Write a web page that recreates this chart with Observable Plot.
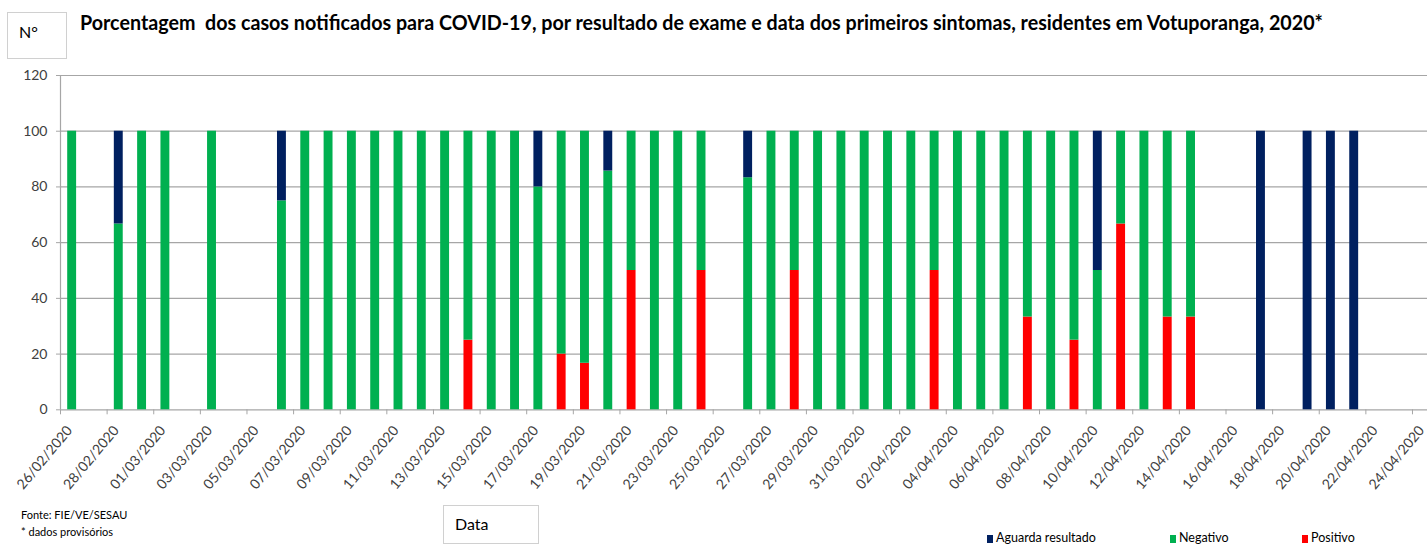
<!DOCTYPE html>
<html><head><meta charset="utf-8">
<script src="https://cdn.jsdelivr.net/npm/d3@7"></script>
<script src="https://cdn.jsdelivr.net/npm/@observablehq/plot@0.6"></script>
<style>
html,body{margin:0;padding:0;background:#fff;overflow:hidden;}
#wrap{position:relative;width:1427px;height:544px;font-family:Lato, "Open Sans", sans-serif;color:#000;}
#chart{position:absolute;left:0;top:0;}
#title{position:absolute;left:80px;top:9px;font-weight:bold;font-size:21px;white-space:nowrap;transform-origin:left top;line-height:26px;}
.box{position:absolute;border:1px solid #d0d0d0;background:#fff;box-sizing:border-box;}
#nbox{left:7px;top:12px;width:60px;height:47px;}
#nbox span{position:absolute;left:11px;top:9px;font-size:16px;}
#dbox{left:443px;top:505px;width:96px;height:39px;}
#dbox span{position:absolute;left:11px;top:8px;font-size:16px;}
.foot{position:absolute;left:21px;font-size:11px;white-space:nowrap;color:#000;}
.leg{position:absolute;top:531px;font-size:12.5px;white-space:nowrap;line-height:14px;color:#000;}
.leg i{display:inline-block;width:6px;height:8px;margin-right:3px;vertical-align:-1px;}
</style></head>
<body>
<div id="wrap">
  <div id="chart"></div>
  <div id="title">Porcentagem&nbsp; dos casos notificados para COVID-19, por resultado de exame e data dos primeiros sintomas, residentes em Votuporanga, 2020*</div>
  <div class="box" id="nbox"><span>N°</span></div>
  <div class="box" id="dbox"><span>Data</span></div>
  <div class="foot" style="top:508px">Fonte: FIE/VE/SESAU</div>
  <div class="foot" style="top:525px">* dados provisórios</div>
  <div id="legend"></div>
</div>
<script>
// ---- data (percent of cases by date of first symptoms) ----
const dias = ["26/02/2020","28/02/2020","29/02/2020","01/03/2020","03/03/2020","06/03/2020","07/03/2020","08/03/2020","09/03/2020","10/03/2020","11/03/2020","12/03/2020","13/03/2020","14/03/2020","15/03/2020","16/03/2020","17/03/2020","18/03/2020","19/03/2020","20/03/2020","21/03/2020","22/03/2020","23/03/2020","24/03/2020","26/03/2020","27/03/2020","28/03/2020","29/03/2020","30/03/2020","31/03/2020","01/04/2020","02/04/2020","03/04/2020","04/04/2020","05/04/2020","06/04/2020","07/04/2020","08/04/2020","09/04/2020","10/04/2020","11/04/2020","12/04/2020","13/04/2020","14/04/2020","17/04/2020","19/04/2020","20/04/2020","21/04/2020"];
const positivo = [0,0,0,0,0,0,0,0,0,0,0,0,0,25,0,0,0,20,16.7,0,50,0,0,50,0,0,50,0,0,0,0,0,50,0,0,0,33.3,0,25,0,66.7,0,33.3,33.3,0,0,0,0];
const negativo = [100,66.7,100,100,100,75,100,100,100,100,100,100,100,75,100,100,80,80,83.3,85.7,50,100,100,50,83.3,100,50,100,100,100,100,100,50,100,100,100,66.7,100,75,50,33.3,100,66.7,66.7,0,0,0,0];
const aguarda  = [0,33.3,0,0,0,25,0,0,0,0,0,0,0,0,0,0,20,0,0,14.3,0,0,0,0,16.7,0,0,0,0,0,0,0,0,0,0,0,0,0,0,50,0,0,0,0,100,100,100,100];
const rotulosX = ["26/02/2020","28/02/2020","01/03/2020","03/03/2020","05/03/2020","07/03/2020","09/03/2020","11/03/2020","13/03/2020","15/03/2020","17/03/2020","19/03/2020","21/03/2020","23/03/2020","25/03/2020","27/03/2020","29/03/2020","31/03/2020","02/04/2020","04/04/2020","06/04/2020","08/04/2020","10/04/2020","12/04/2020","14/04/2020","16/04/2020","18/04/2020","20/04/2020","22/04/2020","24/04/2020"];
const ticksY = [0,20,40,60,80,100,120];
const series = ["Aguarda resultado","Negativo","Positivo"];
const cores = ["#002060","#00B050","#FF0000"];

const parse = d3.utcParse("%d/%m/%Y");
const fmt = d3.utcFormat("%d/%m/%Y");
const table = [];
dias.forEach((d, i) => {
  const date = parse(d), date2 = d3.utcDay.offset(date, 1);
  table.push({date, date2, result: "Positivo", value: positivo[i]});
  table.push({date, date2, result: "Negativo", value: negativo[i]});
  table.push({date, date2, result: "Aguarda resultado", value: aguarda[i]});
});
const tickDates = rotulosX.map(parse);
const start = tickDates[0];
const end = d3.utcDay.offset(tickDates[tickDates.length - 1], 1);
const dayPx = 23.31;
const x0 = 60, x1 = x0 + dayPx * d3.utcDay.count(start, end);

const chart = Plot.plot({
  width: 1427, height: 544,
  marginLeft: 60, marginRight: 0, marginTop: 75, marginBottom: 134.7,
  style: {fontFamily: "Lato, sans-serif", fontSize: "14px", color: "#404040", background: "transparent", overflow: "hidden"},
  x: {type: "utc", domain: [start, end], range: [x0, x1], label: null},
  y: {domain: [0, 120], label: null},
  color: {domain: series, range: cores},
  marks: [
    Plot.gridY(ticksY, {stroke: "#a6a6a6", strokeOpacity: 1, strokeWidth: 1.2}),
    Plot.axisY(ticksY, {tickSize: 4, stroke: "#a6a6a6", tickPadding: 9, fill: "#404040", fontSize: 14, label: null}),
    Plot.ruleX([start], {y1: 0, y2: 120, stroke: "#a6a6a6", strokeWidth: 1.2}),
    Plot.rectY(table, Plot.stackY({x1: "date", x2: "date2", y: "value", fill: "result", insetLeft: 7.2, insetRight: 7.2})),
    Plot.axisX(tickDates, {tickSize: 5, stroke: "#a6a6a6", fill: "none", label: null}),
    Plot.axisX(tickDates, {tickSize: 0, tickPadding: 18, tickRotate: -50, dx: dayPx / 2 - 2.5, fill: "#404040", fontSize: 14, tickFormat: fmt, label: null})
  ]
});
document.getElementById("chart").appendChild(chart);

// legend
const legX = [987, 1170, 1302];
const leg = document.getElementById("legend");
series.forEach((s, i) => {
  const el = document.createElement("div");
  el.className = "leg";
  el.style.left = legX[i] + "px";
  el.innerHTML = `<i style="background:${cores[i]}"></i>${s}`;
  leg.appendChild(el);
});

// fit title width to reference
const t = document.getElementById("title");
const w = t.getBoundingClientRect().width;
t.style.transform = `scaleX(${1243 / w})`;
</script>
</body></html>
